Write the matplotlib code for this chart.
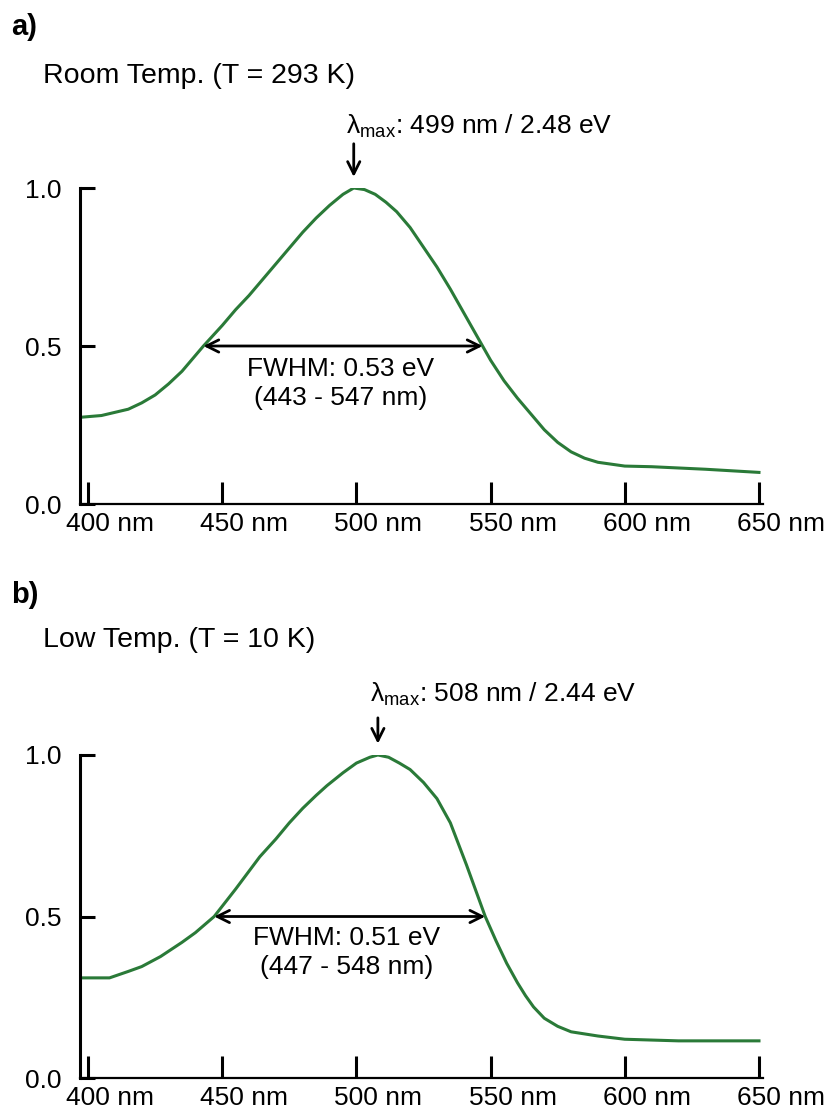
import matplotlib
matplotlib.use("Agg")
from matplotlib import pyplot as plt
import matplotlib.transforms as mtransforms

plt.rcParams['font.family'] = ['Liberation Sans', 'DejaVu Sans']
plt.rcParams['mathtext.fontset'] = 'custom'
plt.rcParams['mathtext.rm'] = 'Liberation Sans'
plt.rcParams['mathtext.it'] = 'Liberation Sans'

# room temperature spectrum (a)
wl_a = [398, 405, 410, 415, 420, 425, 430, 435, 440, 443, 450, 455, 460, 465, 470,
        475, 480, 485, 490, 495, 499, 503, 507, 511, 515, 520, 526, 530, 535, 540, 547,
        550, 555, 560, 566, 570, 575, 580, 585, 590, 600, 610, 620, 630, 640, 650]
int_a = [0.275, 0.28, 0.29, 0.30, 0.32, 0.345, 0.38, 0.42, 0.47, 0.50, 0.565, 0.615, 0.66, 0.71, 0.76,
         0.81, 0.86, 0.905, 0.945, 0.98, 1.0, 0.995, 0.98, 0.955, 0.925, 0.875, 0.80, 0.75, 0.68, 0.605, 0.50,
         0.455, 0.39, 0.335, 0.275, 0.235, 0.195, 0.165, 0.145, 0.132, 0.12, 0.118, 0.114, 0.11, 0.105, 0.10]

# low temperature spectrum (b)
wl_b = [398, 408, 415, 420, 427, 435, 440, 447, 455, 464, 470, 475, 480, 485, 489,
        495, 500, 505, 508, 512, 516, 520, 525, 530, 535, 541, 548, 552, 556, 560,
        563, 566, 570, 575, 580, 590, 600, 620, 650]
int_b = [0.31, 0.31, 0.33, 0.345, 0.376, 0.42, 0.45, 0.50, 0.585, 0.685, 0.74, 0.79, 0.835, 0.875, 0.905,
         0.945, 0.975, 0.993, 1.0, 0.993, 0.975, 0.955, 0.915, 0.865, 0.79, 0.66, 0.50, 0.425, 0.355, 0.295,
         0.255, 0.22, 0.185, 0.16, 0.143, 0.13, 0.12, 0.115, 0.115]

xticks = [400, 450, 500, 550, 600, 650]
xlabels = ['400 nm', '450 nm', '500 nm', '550 nm', '600 nm', '650 nm']

W, H = 830, 1115
fig = plt.figure(figsize=(8.3, 11.15), dpi=100)

def px(x, y):
    return x / W, 1 - y / H

FS = 19
green = '#2a7a38'
# number centred on the tick, " nm" hanging to the right
shift = mtransforms.ScaledTranslation(22 / 100, 0, fig.dpi_scale_trans)

def panel(top, bottom, wl, inten, peak, fw_lo, fw_hi, peak_txt, fw_txt, txt_y, arr_top, fw_y):
    ax = fig.add_axes([80 / W, 1 - bottom / H, 683 / W, (bottom - top) / H])
    ax.plot(wl, inten, color=green, lw=2.2)
    ax.set_xlim(397.0, 651.5)
    ax.set_ylim(0, 1.0)
    ax.spines['top'].set_visible(False)
    ax.spines['right'].set_visible(False)
    ax.spines['left'].set_linewidth(2.2)
    ax.spines['bottom'].set_linewidth(1.6)
    ax.set_xticks(xticks)
    ax.set_xticklabels(xlabels)
    ax.set_yticks([0.0, 0.5, 1.0])
    ax.set_yticklabels(['0.0', '0.5', '1.0'])
    ax.tick_params(axis='x', direction='in', length=16, width=2.2, labelsize=FS, pad=6)
    ax.tick_params(axis='y', direction='in', length=11, width=2.2, labelsize=FS, pad=13)
    for lab in ax.get_xticklabels():
        lab.set_transform(lab.get_transform() + shift)
    # lambda max arrow
    ax.annotate('', xy=(peak, 1.035), xytext=(peak, arr_top), annotation_clip=False,
                arrowprops=dict(arrowstyle='->', color='black', lw=2, mutation_scale=22,
                                shrinkA=0, shrinkB=0))
    ax.text(peak - 3, txt_y, peak_txt, fontsize=FS, ha='left', va='baseline', clip_on=False)
    # FWHM arrow
    ax.annotate('', xy=(fw_lo, 0.5), xytext=(fw_hi, 0.5),
                arrowprops=dict(arrowstyle='<->', color='black', lw=2, mutation_scale=22,
                                shrinkA=0, shrinkB=0))
    ax.text((fw_lo + fw_hi) / 2 - 1, fw_y, fw_txt, fontsize=FS, ha='center', va='top',
            linespacing=1.25)
    return ax

panel(188, 504, wl_a, int_a, 499, 443, 547,
      r'λ$_{\mathrm{max}}$: 499 nm / 2.48 eV', 'FWHM: 0.53 eV\n(443 - 547 nm)', 1.17, 1.14, 0.465)
panel(755, 1078, wl_b, int_b, 508, 447, 548,
      r'λ$_{\mathrm{max}}$: 508 nm / 2.44 eV', 'FWHM: 0.51 eV\n(447 - 548 nm)', 1.165, 1.115, 0.47)

fig.text(*px(11, 35), 'a)', fontsize=21, fontweight='bold', va='baseline')
fig.text(*px(43, 83), 'Room Temp. (T = 293 K)', fontsize=20.5, va='baseline')
fig.text(*px(11, 603), 'b)', fontsize=21, fontweight='bold', va='baseline')
fig.text(*px(43, 647), 'Low Temp. (T = 10 K)', fontsize=20.5, va='baseline')

fig.savefig('out.png', dpi=100)
